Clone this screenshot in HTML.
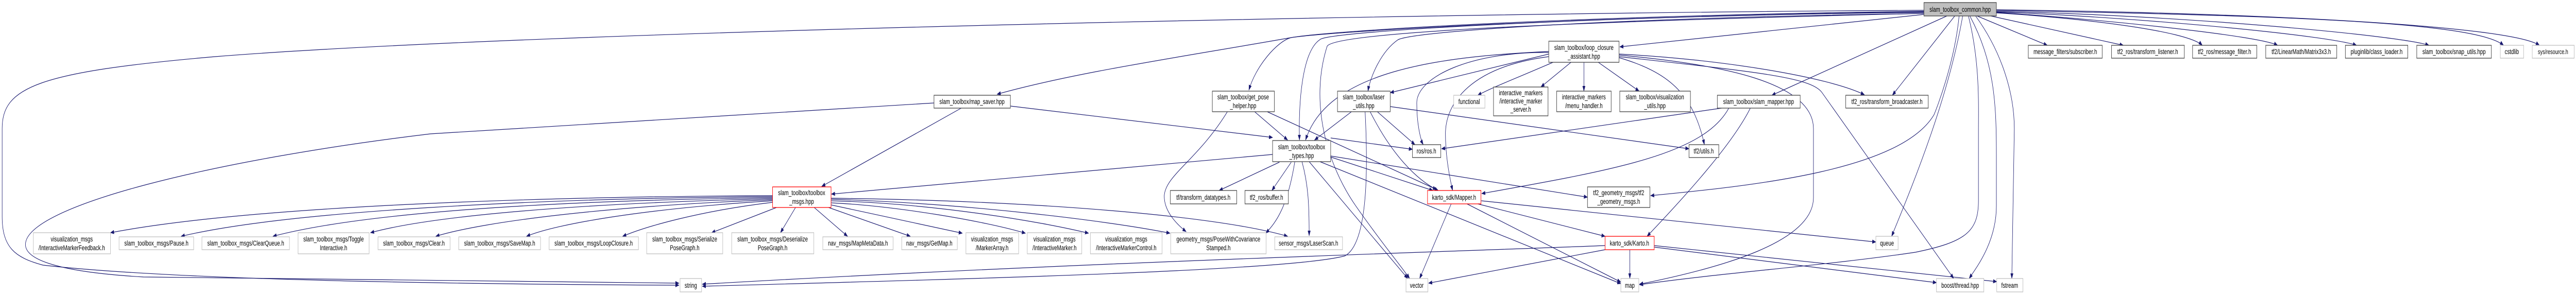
<!DOCTYPE html>
<html><head><meta charset="utf-8"><style>
html,body{margin:0;padding:0;background:#fff;width:100%;height:100%;overflow:hidden;}
svg{display:block;position:fixed;left:0;top:0;width:100vw;height:100vh;}
text{font-family:"Liberation Sans",sans-serif;font-size:14px;fill:#000;text-anchor:middle;}
.e{fill:none;stroke:#191970;stroke-width:1.2;marker-end:url(#a);}
.b{fill:#fff;stroke:#404040;stroke-width:1.3;}
.g{fill:#fff;stroke:#bfbfbf;stroke-width:1.3;}
.r{fill:#fff;stroke:#ff0000;stroke-width:1.3;}
.root{fill:#bfbfbf;stroke:#404040;stroke-width:1.3;}
</style></head><body>
<svg viewBox="0 0 7182 573" preserveAspectRatio="none" overflow="hidden" xmlns="http://www.w3.org/2000/svg">
<defs><marker id="a" markerUnits="userSpaceOnUse" markerWidth="11" markerHeight="8" refX="10" refY="4" orient="auto"><path d="M0,0 L11,4 L0,8 z" fill="#191970"/></marker></defs>
<g>
<path class="e" d="M5364,20 C4000,25 1500,60 600,110 C100,140 6,170 6,250 L6,420 C6,480 40,500 120,515 C500,545 1300,552 1893,554"/>
<path class="e" d="M2604,200 L1200,260 C600,310 71,400 71,475 C71,510 200,530 400,538 L1893,550"/>
<path class="e" d="M5364,22 C4400,30 3700,60 3600,73 C3300,110 3000,140 2780,183"/>
<path class="e" d="M5364,23 C4400,32 3700,62 3600,73 C3560,80 3500,130 3482,175"/>
<path class="e" d="M5364,24 C4500,30 3700,60 3680,77 C3630,100 3620,200 3623,272"/>
<path class="e" d="M5364,26 C4500,35 3950,60 3898,77 C3850,100 3820,150 3814,177"/>
<path class="e" d="M5364,26 C4500,40 3720,60 3700,90 C3650,200 3700,320 3780,400 C3850,470 3910,520 3930,541"/>
<path class="e" d="M5364,28 L4516,91"/>
<path class="e" d="M5428,31 L4940,185"/>
<path class="e" d="M5450,31 L5276,185"/>
<path class="e" d="M5462,31 C5450,120 5400,210 5392,223 C5300,330 4900,360 4602,380"/>
<path class="e" d="M5472,31 C5430,200 5320,380 5274,459"/>
<path class="e" d="M5488,31 C5520,120 5516,200 5516,250 L5516,390 C5516,450 5480,470 5340,490 C5100,515 4800,530 4571,553"/>
<path class="e" d="M5492,31 C5560,120 5566,200 5566,300 L5566,400 C5566,470 5510,520 5490,541"/>
<path class="e" d="M5508,31 C5580,100 5616,180 5616,250 L5609,541"/>
<path class="e" d="M5512,31 L5708,88"/>
<path class="e" d="M5550,31 L5920,88"/>
<path class="e" d="M5566,25 C5800,35 6100,60 6140,88"/>
<path class="e" d="M5566,24 C5900,40 6300,70 6350,88"/>
<path class="e" d="M5566,23 C6000,35 6500,70 6570,88"/>
<path class="e" d="M5566,22 C6100,30 6700,70 6772,88"/>
<path class="e" d="M5566,20 C6300,30 6900,40 6980,88"/>
<path class="e" d="M5566,19 C6300,25 7000,50 7080,88"/>
<path class="e" d="M2680,210 L2291,362"/>
<path class="e" d="M2817,206 L3548,267"/>
<path class="e" d="M3498,217 L3590,272"/>
<path class="e" d="M3422,217 C3340,310 3250,340 3246,380 C3245,410 3280,435 3307,450"/>
<path class="e" d="M3533,217 L4005,368"/>
<path class="e" d="M3548,300 L2318,377"/>
<path class="e" d="M3567,315 L3399,370"/>
<path class="e" d="M3600,315 L3546,370"/>
<path class="e" d="M3610,314 C3590,400 3560,430 3529,453"/>
<path class="e" d="M3630,314 C3648,360 3650,400 3650,458"/>
<path class="e" d="M3650,314 L3925,541"/>
<path class="e" d="M3680,314 L4519,551"/>
<path class="e" d="M3710,305 L3995,370"/>
<path class="e" d="M3710,268 L3938,290"/>
<path class="e" d="M3710,303 L4426,383"/>
<path class="e" d="M3768,217 L3665,272"/>
<path class="e" d="M3840,217 L3945,281"/>
<path class="e" d="M3820,217 C3880,300 3950,350 4010,370"/>
<path class="e" d="M3876,207 L4709,289"/>
<path class="e" d="M3806,217 C3812,300 3820,470 3750,497 C3600,525 2800,540 1958,556"/>
<path class="e" d="M4330,121 C4200,160 4160,170 4120,185"/>
<path class="e" d="M4380,121 L4296,169"/>
<path class="e" d="M4416,121 L4416,177"/>
<path class="e" d="M4456,121 L4570,177"/>
<path class="e" d="M4514,112 C4650,140 4720,180 4752,281"/>
<path class="e" d="M4318,102 C4100,100 3950,150 3950,200 C3950,240 3960,270 3968,281"/>
<path class="e" d="M4318,105 L3876,180"/>
<path class="e" d="M4318,110 C4100,130 4030,200 4030,260 C4030,300 4040,340 4050,370"/>
<path class="e" d="M4318,100 C4000,110 3700,140 3640,272"/>
<path class="e" d="M4514,107 C4800,125 5056,160 5056,250 L5056,384 C5056,470 4800,520 4571,552"/>
<path class="e" d="M4514,110 C4900,140 5050,150 5080,180 L5447,541"/>
<path class="e" d="M4514,105 C4800,115 5100,150 5198,184"/>
<path class="e" d="M4880,210 C4830,280 4700,380 4592,459"/>
<path class="e" d="M4800,210 L4019,289"/>
<path class="e" d="M4820,210 C4750,300 4500,330 4131,376"/>
<path class="e" d="M4046,396 L3958,541"/>
<path class="e" d="M4090,396 L4519,548"/>
<path class="e" d="M4120,396 L4475,459"/>
<path class="e" d="M4130,390 L5230,470"/>
<path class="e" d="M4475,485 L3983,550"/>
<path class="e" d="M4544,485 L4544,541"/>
<path class="e" d="M4612,480 L5399,549"/>
<path class="e" d="M4612,477 L5567,547"/>
<path class="e" d="M4475,477 C4000,490 3000,510 1958,552"/>
<path class="e" d="M2154,380 C1500,382 700,400 308,452"/>
<path class="e" d="M2154,382 C1500,385 800,410 505,459"/>
<path class="e" d="M2154,384 C1500,390 1000,415 761,459"/>
<path class="e" d="M2154,386 C1600,395 1200,420 1033,452"/>
<path class="e" d="M2154,388 C1700,400 1350,430 1215,459"/>
<path class="e" d="M2154,390 C1800,405 1550,435 1468,459"/>
<path class="e" d="M2154,393 C1950,410 1800,440 1736,459"/>
<path class="e" d="M2165,403 L1984,452"/>
<path class="e" d="M2218,403 L2176,452"/>
<path class="e" d="M2270,403 L2363,459"/>
<path class="e" d="M2310,403 L2538,459"/>
<path class="e" d="M2317,398 L2683,453"/>
<path class="e" d="M2317,394 C2500,400 2750,430 2859,453"/>
<path class="e" d="M2317,390 C2600,395 2900,430 3035,453"/>
<path class="e" d="M2317,387 C2700,395 3100,430 3262,453"/>
<path class="e" d="M2317,385 C2900,390 3400,420 3590,459"/>
</g>
<g>
<rect class="root" x="5364" y="5" width="202" height="26"/><text x="5465" y="23">slam_toolbox_common.hpp</text>
<rect class="g" x="93" y="452" width="215" height="41"/><text x="200" y="469">visualization_msgs</text><text x="200" y="486">/InteractiveMarkerFeedback.h</text>
<rect class="g" x="332" y="460" width="208" height="25"/><text x="436" y="477">slam_toolbox_msgs/Pause.h</text>
<rect class="g" x="563" y="460" width="244" height="25"/><text x="685" y="477">slam_toolbox_msgs/ClearQueue.h</text>
<rect class="g" x="831" y="452" width="198" height="41"/><text x="930" y="469">slam_toolbox_msgs/Toggle</text><text x="930" y="486">Interactive.h</text>
<rect class="g" x="1054" y="460" width="201" height="25"/><text x="1154" y="477">slam_toolbox_msgs/Clear.h</text>
<rect class="g" x="1279" y="460" width="228" height="25"/><text x="1393" y="477">slam_toolbox_msgs/SaveMap.h</text>
<rect class="g" x="1531" y="460" width="249" height="25"/><text x="1655" y="477">slam_toolbox_msgs/LoopClosure.h</text>
<rect class="g" x="1803" y="452" width="212" height="41"/><text x="1909" y="469">slam_toolbox_msgs/Serialize</text><text x="1909" y="486">PoseGraph.h</text>
<rect class="g" x="2040" y="452" width="229" height="41"/><text x="2154" y="469">slam_toolbox_msgs/Deserialize</text><text x="2154" y="486">PoseGraph.h</text>
<rect class="g" x="2294" y="460" width="196" height="25"/><text x="2392" y="477">nav_msgs/MapMetaData.h</text>
<rect class="g" x="2514" y="460" width="155" height="25"/><text x="2591" y="477">nav_msgs/GetMap.h</text>
<rect class="g" x="2693" y="452" width="147" height="41"/><text x="2766" y="469">visualization_msgs</text><text x="2766" y="486">/MarkerArray.h</text>
<rect class="g" x="2864" y="452" width="152" height="41"/><text x="2940" y="469">visualization_msgs</text><text x="2940" y="486">/InteractiveMarker.h</text>
<rect class="g" x="3040" y="452" width="200" height="41"/><text x="3140" y="469">visualization_msgs</text><text x="3140" y="486">/InteractiveMarkerControl.h</text>
<rect class="g" x="3264" y="452" width="266" height="41"/><text x="3397" y="469">geometry_msgs/PoseWithCovariance</text><text x="3397" y="486">Stamped.h</text>
<rect class="g" x="3554" y="460" width="189" height="25"/><text x="3648" y="477">sensor_msgs/LaserScan.h</text>
<rect class="r" x="2154" y="363" width="163" height="40"/><text x="2235" y="379">slam_toolbox/toolbox</text><text x="2235" y="396">_msgs.hpp</text>
<rect class="g" x="1896" y="541" width="60" height="26"/><text x="1926" y="559">string</text>
<rect class="b" x="2604" y="185" width="213" height="25"/><text x="2710" y="202">slam_toolbox/map_saver.hpp</text>
<rect class="b" x="3380" y="177" width="173" height="40"/><text x="3466" y="193">slam_toolbox/get_pose</text><text x="3466" y="210">_helper.hpp</text>
<rect class="b" x="3263" y="370" width="185" height="26"/><text x="3355" y="388">tf/transform_datatypes.h</text>
<rect class="b" x="3471" y="370" width="121" height="26"/><text x="3531" y="388">tf2_ros/buffer.h</text>
<rect class="b" x="3548" y="273" width="162" height="41"/><text x="3629" y="290">slam_toolbox/toolbox</text><text x="3629" y="307">_types.hpp</text>
<rect class="b" x="3729" y="177" width="147" height="40"/><text x="3802" y="193">slam_toolbox/laser</text><text x="3802" y="210">_utils.hpp</text>
<rect class="g" x="4053" y="185" width="87" height="25"/><text x="4096" y="202">functional</text>
<rect class="b" x="4164" y="169" width="152" height="56"/><text x="4240" y="185">interactive_markers</text><text x="4240" y="201">/interactive_marker</text><text x="4240" y="217">_server.h</text>
<rect class="b" x="4340" y="177" width="152" height="40"/><text x="4416" y="193">interactive_markers</text><text x="4416" y="210">/menu_handler.h</text>
<rect class="b" x="4516" y="177" width="197" height="40"/><text x="4614" y="193">slam_toolbox/visualization</text><text x="4614" y="210">_utils.hpp</text>
<rect class="b" x="4788" y="185" width="231" height="25"/><text x="4903" y="202">slam_toolbox/slam_mapper.hpp</text>
<rect class="b" x="4318" y="80" width="196" height="41"/><text x="4416" y="97">slam_toolbox/loop_closure</text><text x="4416" y="114">_assistant.hpp</text>
<rect class="b" x="3938" y="281" width="79" height="25"/><text x="3977" y="298">ros/ros.h</text>
<rect class="b" x="4709" y="281" width="83" height="25"/><text x="4750" y="298">tf2/utils.h</text>
<rect class="r" x="3980" y="370" width="149" height="26"/><text x="4054" y="388">karto_sdk/Mapper.h</text>
<rect class="b" x="4426" y="363" width="174" height="40"/><text x="4513" y="379">tf2_geometry_msgs/tf2</text><text x="4513" y="396">_geometry_msgs.h</text>
<rect class="r" x="4475" y="459" width="137" height="26"/><text x="4543" y="477">karto_sdk/Karto.h</text>
<rect class="g" x="3920" y="541" width="61" height="26"/><text x="3950" y="559">vector</text>
<rect class="g" x="4519" y="541" width="50" height="26"/><text x="4544" y="559">map</text>
<rect class="b" x="5146" y="185" width="230" height="25"/><text x="5261" y="202">tf2_ros/transform_broadcaster.h</text>
<rect class="b" x="5655" y="88" width="206" height="25"/><text x="5758" y="105">message_filters/subscriber.h</text>
<rect class="b" x="5887" y="88" width="203" height="25"/><text x="5988" y="105">tf2_ros/transform_listener.h</text>
<rect class="g" x="5230" y="459" width="62" height="26"/><text x="5261" y="477">queue</text>
<rect class="g" x="5399" y="541" width="132" height="26"/><text x="5465" y="559">boost/thread.hpp</text>
<rect class="g" x="5567" y="541" width="73" height="26"/><text x="5603" y="559">fstream</text>
<rect class="b" x="6113" y="88" width="179" height="25"/><text x="6202" y="105">tf2_ros/message_filter.h</text>
<rect class="b" x="6317" y="88" width="198" height="25"/><text x="6416" y="105">tf2/LinearMath/Matrix3x3.h</text>
<rect class="b" x="6539" y="88" width="174" height="25"/><text x="6626" y="105">pluginlib/class_loader.h</text>
<rect class="b" x="6738" y="88" width="208" height="25"/><text x="6842" y="105">slam_toolbox/snap_utils.hpp</text>
<rect class="g" x="6971" y="88" width="65" height="25"/><text x="7003" y="105">cstdlib</text>
<rect class="g" x="7060" y="88" width="117" height="25"/><text x="7118" y="105" style="font-size:13px">sys/resource.h</text>
</g>
</svg>
</body></html>
